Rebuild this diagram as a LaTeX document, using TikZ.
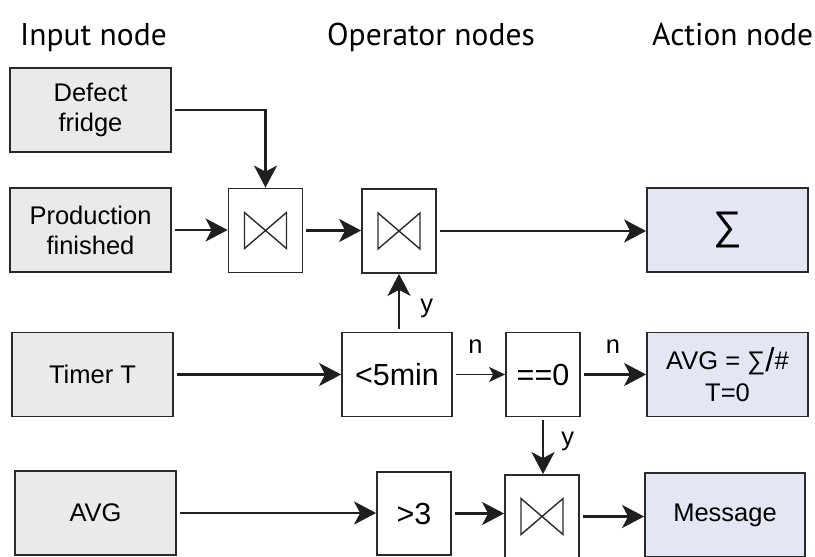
\documentclass[tikz,border=0pt]{standalone}
\usepackage{fontspec}
\setmainfont{Liberation Sans}
\newfontfamily\headfont{PT Sans}
\usetikzlibrary{arrows.meta}
\definecolor{inputfill}{HTML}{EAEAEA}
\definecolor{actionfill}{HTML}{E3E7F3}
\definecolor{edgegray}{HTML}{2A2A2A}
\begin{document}
\begin{tikzpicture}[x=1pt,y=-1pt,
  box/.style={draw=edgegray, line width=1.8pt, inner sep=0pt, align=center,
    font=\fontsize{25.5}{30}\selectfont},
  inbox/.style={box, fill=inputfill, minimum width=161pt, minimum height=84pt},
  actbox/.style={box, fill=actionfill, minimum width=161pt, minimum height=84pt},
  opbox/.style={box, fill=white, minimum width=74pt, minimum height=84pt,
    font=\fontsize{30.5}{34}\selectfont},
  joinbox/.style={opbox, path picture={
    \draw[line width=1.4pt, edgegray, line join=miter]
      ([shift={(-21pt,18pt)}]path picture bounding box.center)
      -- ++(42pt,-36pt) -- ++(0pt,36pt) -- ++(-42pt,-36pt) -- cycle;}},
  flow/.style={line width=2.7pt, draw=black!88,
    -{Stealth[length=22pt,width=23pt,inset=6pt]}, shorten <=3pt},
  thinflow/.style={line width=1.7pt, draw=black!88,
    -{Stealth[length=16pt,width=15pt,inset=4pt]}, shorten <=3pt},
  tag/.style={font=\fontsize{25.5}{30}\selectfont, inner sep=0pt},
  head/.style={font=\headfont\fontsize{31.5}{36}\selectfont, inner sep=0pt, anchor=base west}]
\useasboundingbox (0,0) rectangle (815,557);

% column headings
\node[head] (hin)  at (20,45)  {Input node};
\node[head] (hop)  at (327,45) {Operator nodes};
\node[head] (hact) at (652,45) {Action node};

% input nodes
\node[inbox] (defect) at (90.5,110)  {Defect\\fridge};
\node[inbox] (prod)   at (90.5,230)  {Production\\finished};
\node[inbox] (timer)  at (92.5,374.5) {Timer T};
\node[inbox] (avg)    at (95.5,513)  {AVG};

% operator nodes
\node[joinbox] (op1) at (265.5,230.5) {};
\node[joinbox] (op2) at (399,231) {};
\node[opbox, minimum width=110pt] (lt5) at (397,374.5) {<5min};
\node[opbox] (eq0) at (543,374.5) {==0};
\node[opbox, minimum height=83pt] (gt3) at (414,513.5) {>3};
\node[joinbox, minimum height=83pt] (op3) at (542,516.5) {};

% action nodes
\node[actbox] (sum)   at (727.5,230) {\fontsize{40}{40}\selectfont ∑};
\node[actbox] (avgeq) at (727.5,374.5)
  {AVG = ∑\raisebox{-2pt}{\fontsize{33}{33}\selectfont/}\#\\[2pt]T=0};
\node[actbox, minimum width=160pt] (msg) at (725,515) {Message};

% connectors
\draw[flow, line width=2.2pt] (defect.east) -| (op1.north);
\draw[flow] (prod.east) -- (prod.east -| op1.west);
\draw[flow] (op1.east) -- (op1.east -| op2.west);
\draw[flow] (op2.east) -- (op2.east -| sum.west);
\draw[flow] (op2.south |- lt5.north) -- node[tag, pos=0.41, right=20pt] {y} (op2.south);
\draw[flow] (timer.east) -- (timer.east -| lt5.west);
\draw[thinflow] (lt5.east) -- node[tag, pos=0.43, above=20pt] {n} (lt5.east -| eq0.west);
\draw[flow] (eq0.east) -- node[tag, pos=0.49, above=20pt] {n} (eq0.east -| avgeq.west);
\draw[flow] (eq0.south) -- node[tag, pos=0.43, right=17pt] {y} (eq0.south |- op3.north);
\draw[flow] (avg.east) -- (avg.east -| gt3.west);
\draw[flow] (gt3.east) -- (gt3.east -| op3.west);
\draw[flow] (op3.east) -- (op3.east -| msg.west);
\end{tikzpicture}
\end{document}
